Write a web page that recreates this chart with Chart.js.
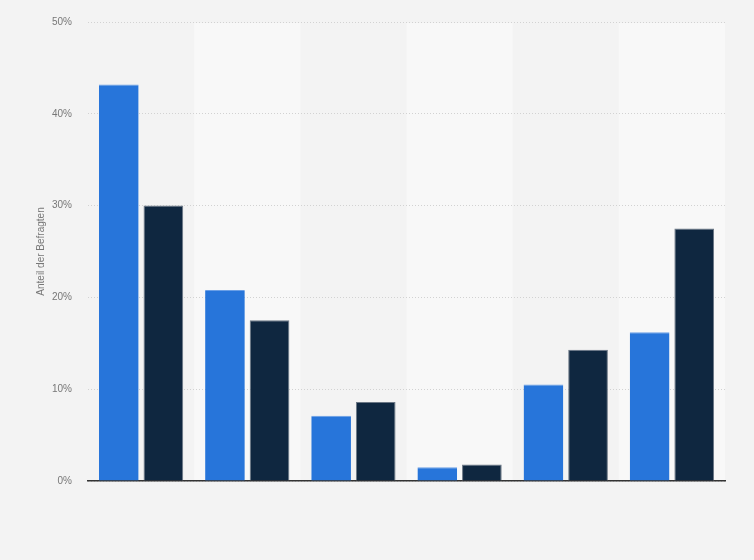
<!DOCTYPE html>
<html>
<head>
<meta charset="utf-8">
<script src="https://cdn.jsdelivr.net/npm/chart.js@4"></script>
<style>
  html, body { margin: 0; padding: 0; background: #f3f3f3; }
  #wrap { width: 754px; height: 560px; position: relative; }
</style>
</head>
<body>
<div id="wrap"><canvas id="chart"></canvas></div>
<script>
// Daten (keine Kategorienamen sichtbar)
const kategorien = ["1", "2", "3", "4", "5", "6"];
const serieA = [43.2, 20.8, 7.1, 1.5, 10.5, 16.2];
const serieB = [30.0, 17.5, 8.6, 1.8, 14.3, 27.5];
const yTicks = [0, 10, 20, 30, 40, 50];

// abwechselnde Hintergrundstreifen pro Kategorie (unter Gitter und Balken)
const bandPlugin = {
  id: "bands",
  beforeDraw(chart) {
    const { ctx, chartArea, scales } = chart;
    const x = scales.x;
    const step = x.width / kategorien.length;
    ctx.save();
    kategorien.forEach((k, i) => {
      if (i % 2 === 1) {
        const c = x.getPixelForValue(i);
        ctx.fillStyle = "#f8f8f8";
        ctx.fillRect(c - step / 2, chartArea.top + 1, step, chartArea.bottom - chartArea.top - 1);
      }
    });
    ctx.restore();
  }
};

new Chart(document.getElementById("chart"), {
  type: "bar",
  data: {
    labels: kategorien,
    datasets: [
      { data: serieA, backgroundColor: "#2775da", borderColor: "#6a9fe6", borderWidth: { top: 1 }, borderSkipped: "bottom" },
      { data: serieB, backgroundColor: "#0f2740", borderColor: "#6b7785", borderWidth: 1, borderSkipped: "bottom" }
    ]
  },
  options: {
    responsive: true,
    maintainAspectRatio: false,
    animation: false,
    layout: { padding: { left: 31, right: 29, top: 11, bottom: 79 } },
    datasets: { bar: { categoryPercentage: 0.84, barPercentage: 0.89 } },
    plugins: { legend: { display: false }, tooltip: { enabled: false } },
    scales: {
      x: {
        grid: { display: false, drawTicks: false },
        border: { display: true, color: "#333333", width: 1.5 },
        ticks: { display: false }
      },
      y: {
        min: 0,
        max: 50,
        afterBuildTicks: (s) => { s.ticks = yTicks.map(v => ({ value: v })); },
        afterFit: (s) => { s.width = 57; },
        grid: { color: "#d2d2d2", drawTicks: false, lineWidth: 1 },
        border: { display: false, dash: [1, 2] },
        ticks: {
          padding: 16,
          color: "#777777",
          font: { family: "Arial, Liberation Sans, sans-serif", size: 10 },
          callback: (v) => v + "%"
        },
        title: {
          display: true,
          text: "Anteil der Befragten",
          color: "#777777",
          font: { family: "Arial, Liberation Sans, sans-serif", size: 10 },
          padding: { top: 4, bottom: 0 }
        }
      }
    }
  },
  plugins: [bandPlugin]
});
</script>
</body>
</html>
